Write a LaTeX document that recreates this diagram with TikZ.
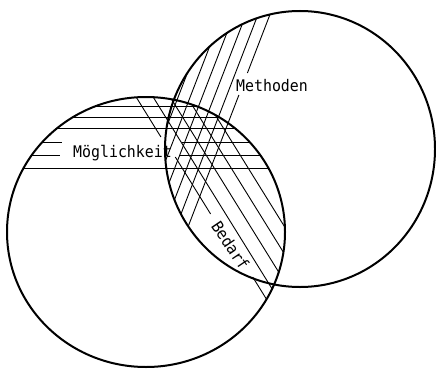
\documentclass[tikz,border=0pt]{standalone}
\usepackage{fontspec}
\newfontfamily\labfont[FakeStretch=0.93]{DejaVu Sans Mono}
\begin{document}
\begin{tikzpicture}[x=1pt,y=-1pt,
  rim/.style={line width=2pt},
  hatch/.style={line width=0.9pt},
  lab/.style={font=\labfont\fontsize{16pt}{18pt}\selectfont, inner sep=0pt}]
\useasboundingbox (0,0) rectangle (436,369);
% Moeglichkeit hatching (horizontal) and Bedarf hatching (\) inside left circle
\begin{scope}
  \clip (146,232) ellipse [x radius=139pt, y radius=135pt];
  \foreach \y in {106,117,128,168} \draw[hatch] (0,\y) -- (436,\y);
  \draw[hatch] (0,142) -- (62,142) (182,142) -- (436,142);
  \draw[hatch] (0,155) -- (60,155) (180,155) -- (436,155);
  % Bedarf lines
  \draw[hatch] (113.2,60) -- (160.9,137);
  \draw[hatch] (175.3,157) -- (210.6,214);
  \draw[hatch] (252.7,277) -- (285.6,330);
  \foreach \a in {217,234,251,268}
    \draw[hatch] ({\a+0.62*(40-200)},40) -- ({\a+0.62*(360-200)},360);
\end{scope}
% Methoden hatching (/) inside right circle
\begin{scope}
  \clip (300,149) ellipse [x radius=135pt, y radius=138pt];
  \foreach \a in {177,189,201,213,225}
    \draw[hatch] ({\a+0.386*120},-20) -- ({\a-0.386*200},300);
  \draw[hatch] (283.3,-20) -- (247.4,73);
  \draw[hatch] (238.9,95) -- (159.8,300);
\end{scope}
% labels
\node[lab, anchor=base] (meth) at (272,91) {Methoden};
\node[lab, anchor=base] (moeg) at (122.5,157) {Möglichkeit};
\node[lab, rotate=-56] (bed) at (230.5,245.5) {Bedarf};
% circles
\draw[rim] (146,232) ellipse [x radius=139pt, y radius=135pt];
\draw[rim] (300,149) ellipse [x radius=135pt, y radius=138pt];
\end{tikzpicture}
\end{document}
